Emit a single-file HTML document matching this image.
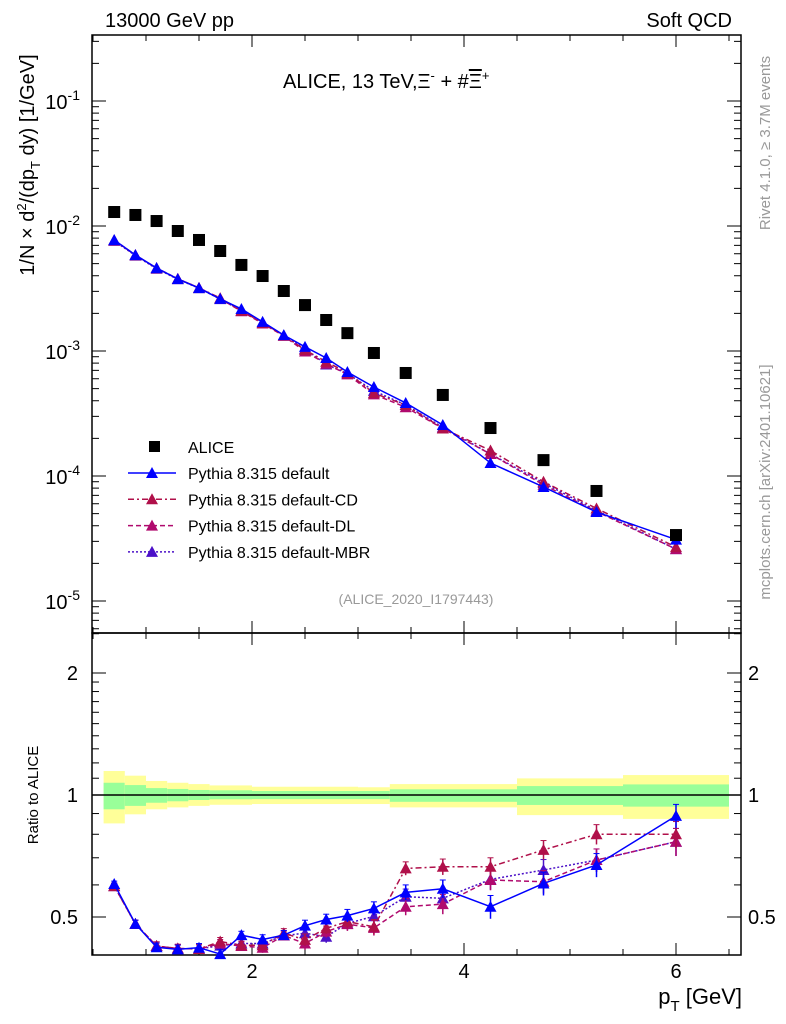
<!DOCTYPE html>
<html><head><meta charset="utf-8"><style>
body{margin:0;background:#fff}
svg{display:block;font-family:"Liberation Sans",sans-serif}
</style></head><body>
<svg id="c" width="786" height="1024" viewBox="0 0 786 1024"></svg>
<script>
const xs=[0.7,0.9,1.1,1.3,1.5,1.7,1.9,2.1,2.3,2.5,2.7,2.9,3.15,3.45,3.8,4.25,4.75,5.25,6.0];
const alice=[0.01294,0.01225,0.01096,0.00912,0.00773,0.00631,0.00488,0.00398,0.00302,0.00233,0.00177,0.00139,0.000964,0.000667,0.000445,0.000242,0.000134,7.59e-5,3.37e-5];
const pyDef=[7.73e-3,5.86e-3,4.61e-3,3.77e-3,3.19e-3,2.61e-3,2.17e-3,1.71e-3,1.34e-3,1.08e-3,8.79e-4,6.79e-4,5.15e-4,3.84e-4,2.56e-4,1.27e-4,8.17e-5,5.15e-5,3.1e-5];
const pyCD=[7.7e-3,5.85e-3,4.6e-3,3.78e-3,3.2e-3,2.65e-3,2.1e-3,1.68e-3,1.33e-3,1.02e-3,8.2e-4,6.7e-4,4.6e-4,3.7e-4,2.4e-4,1.6e-4,9.0e-5,5.5e-5,2.7e-5];
const pyDL=[7.7e-3,5.85e-3,4.6e-3,3.78e-3,3.2e-3,2.62e-3,2.08e-3,1.66e-3,1.32e-3,0.99e-3,7.9e-4,6.5e-4,4.5e-4,3.55e-4,2.4e-4,1.5e-4,8.5e-5,5.2e-5,2.6e-5];
const pyMBR=[7.6e-3,5.8e-3,4.55e-3,3.75e-3,3.18e-3,2.6e-3,2.1e-3,1.7e-3,1.33e-3,1.04e-3,7.8e-4,6.6e-4,4.8e-4,3.7e-4,2.45e-4,1.5e-4,8.8e-5,5.3e-5,2.6e-5];
const rDef=[0.603,0.481,0.421,0.416,0.420,0.405,0.451,0.440,0.451,0.476,0.493,0.504,0.525,0.575,0.587,0.530,0.605,0.672,0.888];
const rCD=[0.596,0.481,0.424,0.418,0.417,0.435,0.426,0.426,0.456,0.439,0.469,0.487,0.473,0.659,0.665,0.665,0.732,0.800,0.800];
const rDL=[0.596,0.481,0.424,0.418,0.417,0.430,0.424,0.420,0.450,0.430,0.460,0.480,0.470,0.530,0.538,0.617,0.611,0.691,0.767];
const rMBR=[0.596,0.481,0.424,0.418,0.417,0.425,0.430,0.430,0.450,0.456,0.447,0.482,0.502,0.561,0.556,0.619,0.653,0.691,0.767];
const rErr=[0.01,0.01,0.01,0.01,0.01,0.01,0.01,0.012,0.012,0.015,0.015,0.018,0.02,0.025,0.03,0.035,0.04,0.045,0.06];
const bandEdges=[0.6,0.8,1.0,1.2,1.4,1.6,2.0,3.0,3.3,4.5,5.5,6.5];
const yelUp=[1.146,1.116,1.083,1.072,1.064,1.056,1.048,1.045,1.064,1.099,1.12];
const yelLo=[0.851,0.896,0.922,0.932,0.94,0.946,0.95,0.95,0.932,0.892,0.873];
const grnUp=[1.072,1.058,1.04,1.035,1.029,1.027,1.023,1.023,1.033,1.052,1.062];
const grnLo=[0.922,0.94,0.957,0.965,0.972,0.976,0.977,0.977,0.962,0.945,0.936];
const mainTicks=[-1,-2,-3,-4,-5];
const ratioTicks=[0.5,1,2];
const xTicks=[2,4,6];

const svg=document.getElementById('c');const NS='http://www.w3.org/2000/svg';
function el(t,a,p){const e=document.createElementNS(NS,t);for(const k in a)e.setAttribute(k,a[k]);(p||svg).appendChild(e);return e;}
const L=92,R=741,T1=35,B1=633,T2=633,B2=955;
const X=v=>40+106*v;
const Y=v=>101-125*(Math.log10(v)+1);
const YR=v=>795-122*Math.log2(v);

const gb=el('g',{});
for(let i=0;i<yelUp.length;i++){
 const x0=X(bandEdges[i]),x1=X(bandEdges[i+1]);
 const y=el('rect',{x:x0,y:YR(yelUp[i]),width:x1-x0,height:YR(yelLo[i])-YR(yelUp[i]),fill:'#ffff99'},gb);
 
 const g=el('rect',{x:x0,y:YR(grnUp[i]),width:x1-x0,height:YR(grnLo[i])-YR(grnUp[i]),fill:'#99ff99'},gb);
 
}
el('line',{x1:L,x2:R,y1:YR(1),y2:YR(1),stroke:'#000','stroke-width':1.5});

for(const [t,b] of [[T1,B1],[T2,B2]]){const f=el('rect',{x:L,y:t,width:R-L,height:b-t,fill:'none',stroke:'#000','stroke-width':1.5});}

for(let v=0.5;v<=6.6;v+=0.5){const maj=Math.abs(v-Math.round(v))<1e-6&&Math.round(v)%2==0;const len=maj?12:6;
 for(const [t,b] of [[T1,B1],[T2,B2]]){el('line',{x1:X(v),x2:X(v),y1:b,y2:b-len,stroke:'#000'});el('line',{x1:X(v),x2:X(v),y1:t,y2:t+len,stroke:'#000'});}}
xTicks.forEach(v=>{const t=el('text',{x:X(v),y:978,'font-size':20,'text-anchor':'middle'});t.textContent=v;});

for(let d=-6;d<=-1;d++)for(let m=1;m<10;m++){const v=m*Math.pow(10,d);const y=Y(v);if(y<T1||y>B1)continue;const len=m==1?14:7;
 el('line',{x1:L,x2:L+len,y1:y,y2:y,stroke:'#000'});el('line',{x1:R,x2:R-len,y1:y,y2:y,stroke:'#000'});}
mainTicks.forEach(d=>{const t=el('text',{x:80,y:Y(Math.pow(10,d))+8,'font-size':20,'text-anchor':'end'});
 t.innerHTML='10<tspan dy="-9" font-size="14">'+d+'</tspan>';});

[0.5,0.6,0.7,0.8,0.9,1,1.1,1.2,1.3,1.4,1.5,1.6,1.7,1.8,1.9,2,2.5].forEach(v=>{const y=YR(v);if(y<T2||y>B2)return;const len=(v==0.5||v==1||v==2)?14:7;
 el('line',{x1:L,x2:L+len,y1:y,y2:y,stroke:'#000'});el('line',{x1:R,x2:R-len,y1:y,y2:y,stroke:'#000'});});
ratioTicks.forEach(v=>{for(const [x,a] of [[78,'end'],[748,'start']]){const t=el('text',{x:x,y:YR(v)+7,'font-size':20,'text-anchor':a});t.textContent=v;}});

const series=[
 {n:'pythia-default',c:'#0000ff',d:'',main:pyDef,r:rDef},
 {n:'pythia-default-cd',c:'#b0104a',d:'6,3,2,3',main:pyCD,r:rCD},
 {n:'pythia-default-dl',c:'#b00a6e',d:'5,3',main:pyDL,r:rDL},
 {n:'pythia-default-mbr',c:'#4b10c8',d:'2,2',main:pyMBR,r:rMBR}];
function tri(x,y,c,p){return el('path',{d:`M${x},${y-6}L${x+6},${y+5}L${x-6},${y+5}Z`,fill:c},p);}
series.slice().reverse().forEach(s=>{
 const g=el('g',{});
 el('polyline',{points:xs.map((x,i)=>X(x)+','+Y(s.main[i])).join(' '),fill:'none',stroke:s.c,'stroke-width':1.5,'stroke-dasharray':s.d},g);
 xs.forEach((x,i)=>{const m=tri(X(x),Y(s.main[i]),s.c,g);});
 const gr=el('g',{});
 el('polyline',{points:xs.map((x,i)=>X(x)+','+YR(s.r[i])).join(' '),fill:'none',stroke:s.c,'stroke-width':1.5,'stroke-dasharray':s.d},gr);
 xs.forEach((x,i)=>{const y1=YR(s.r[i]+rErr[i]),y2=YR(s.r[i]-rErr[i]);
  el('line',{x1:X(x),x2:X(x),y1:y1,y2:Math.min(y2,B2),stroke:s.c,'stroke-width':1.5},gr);
  el('line',{x1:X(x)-3,x2:X(x)+3,y1:y1,y2:y1,stroke:s.c},gr);
  const m=tri(X(x),YR(s.r[i]),s.c,gr);});
});
const ga=el('g',{});
xs.forEach((x,i)=>{const r=el('rect',{x:X(x)-6,y:Y(alice[i])-6,width:12,height:12,fill:'#000'},ga);});

const lg=el('g',{});
el('rect',{x:149,y:441,width:11,height:11,fill:'#000'},lg);
let t=el('text',{x:188,y:453,'font-size':16},lg);t.textContent='ALICE';
series.forEach((s,i)=>{const y=473+i*26.3;
 el('line',{x1:128,x2:176,y1:y,y2:y,stroke:s.c,'stroke-width':1.5,'stroke-dasharray':s.d},lg);tri(152,y,s.c,lg);
 const tt=el('text',{x:188,y:y+6,'font-size':16},lg);tt.textContent=['Pythia 8.315 default','Pythia 8.315 default-CD','Pythia 8.315 default-DL','Pythia 8.315 default-MBR'][i];
 });
</script>
<svg width="786" height="1024" style="position:absolute;left:0;top:0" font-family="Liberation Sans, sans-serif">
<text x="105" y="27" font-size="20">13000 GeV pp</text>
<text x="732" y="27" font-size="20" text-anchor="end">Soft QCD</text>
<text x="283" y="88" font-size="20">ALICE, 13 TeV,Ξ<tspan dy="-8" font-size="13">-</tspan><tspan dy="8"> + #</tspan><tspan text-decoration="overline">Ξ</tspan><tspan dy="-8" font-size="13">+</tspan></text>
<text x="416" y="604" font-size="14" fill="#999" text-anchor="middle">(ALICE_2020_I1797443)</text>
<text transform="translate(770,143) rotate(-90)" font-size="15" fill="#999" text-anchor="middle">Rivet 4.1.0, ≥ 3.7M events</text>
<text transform="translate(770,482) rotate(-90)" font-size="15" fill="#999" text-anchor="middle">mcplots.cern.ch [arXiv:2401.10621]</text>
<text transform="translate(34,165) rotate(-90)" font-size="20" text-anchor="middle">1/N × d<tspan dy="-8" font-size="13">2</tspan><tspan dy="8">/(dp</tspan><tspan dy="6" font-size="13">T</tspan><tspan dy="-6"> dy) [1/GeV]</tspan></text>
<text transform="translate(38,795) rotate(-90)" font-size="15" text-anchor="middle">Ratio to ALICE</text>
<text x="742" y="1004" font-size="22" text-anchor="end">p<tspan dy="7" font-size="15">T</tspan><tspan dy="-7"> [GeV]</tspan></text>
</svg>
</body></html>
